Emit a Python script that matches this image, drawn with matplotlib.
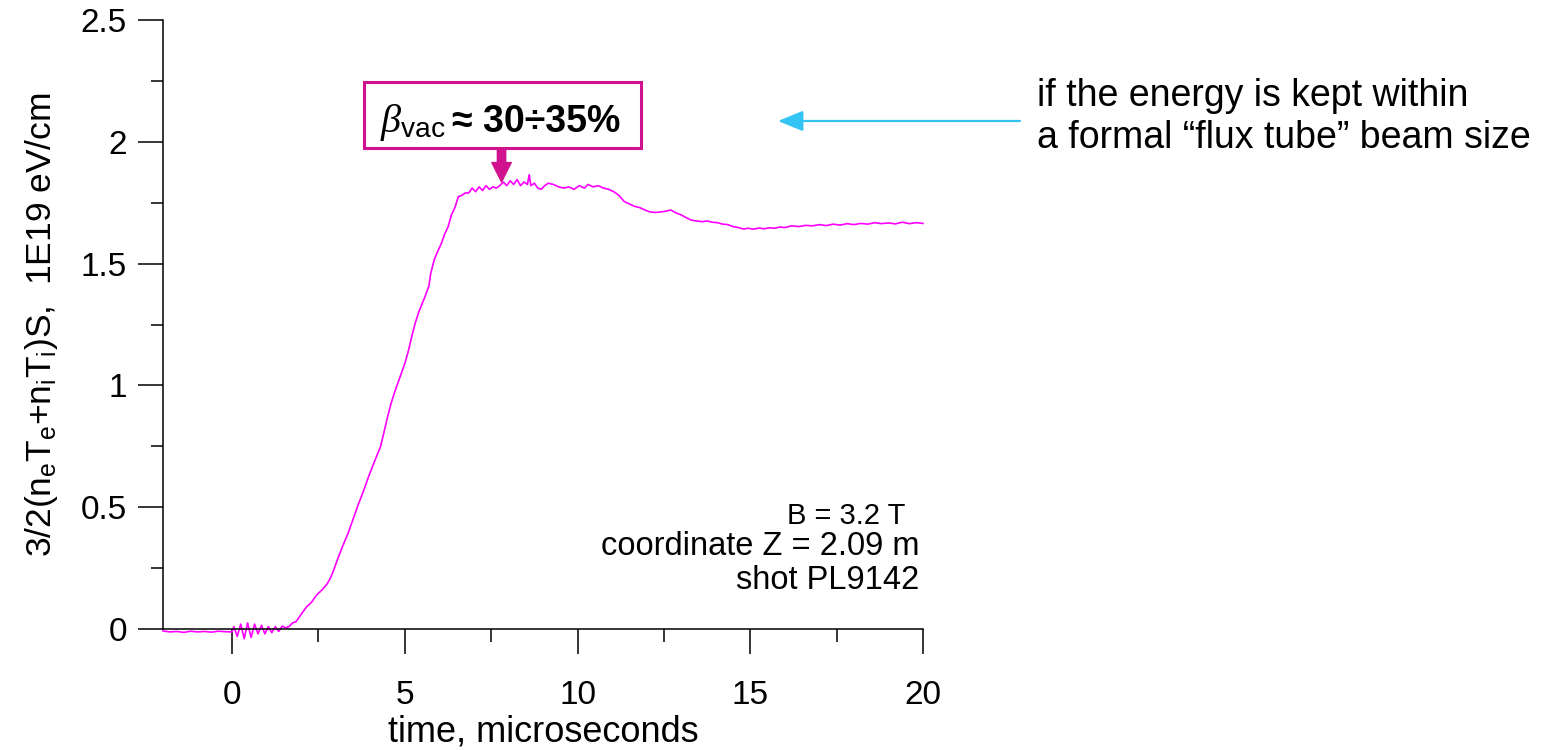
import numpy as np
import matplotlib
matplotlib.use("Agg")
import matplotlib.pyplot as plt
from matplotlib.patches import Rectangle
from matplotlib.ticker import MultipleLocator

plt.rcParams['font.family'] = ['Liberation Sans', 'DejaVu Sans']
plt.rcParams['mathtext.fontset'] = 'custom'
plt.rcParams['mathtext.rm'] = 'Liberation Sans'
plt.rcParams['mathtext.it'] = 'Liberation Serif:italic'
plt.rcParams['mathtext.bf'] = 'Liberation Sans:bold'

# Plasma energy content per unit length vs time, shot PL9142
time_us = [
    -2.0, -1.8, -1.6, -1.4, -1.2, -1.0, -0.8, -0.6, -0.4, -0.2, 0.0,
    0.05, 0.15, 0.25, 0.35, 0.45, 0.55, 0.65, 0.75, 0.85, 0.95, 1.05,
    1.15, 1.25, 1.35, 1.45, 1.55, 1.65, 1.75, 1.85, 1.95, 2.05, 2.15,
    2.3, 2.45, 2.6, 2.75, 2.85, 2.95, 3.05, 3.2, 3.35, 3.5, 3.65, 3.8,
    3.95, 4.1, 4.2, 4.3, 4.4, 4.5, 4.6, 4.7, 4.8, 4.9, 5.0, 5.1, 5.2,
    5.3, 5.4, 5.5, 5.6, 5.7, 5.75, 5.85, 5.95, 6.05, 6.15, 6.25, 6.35,
    6.45, 6.55, 6.65, 6.75, 6.85, 6.95, 7.05, 7.15, 7.25, 7.35, 7.45,
    7.55, 7.65, 7.75, 7.85, 7.95, 8.05, 8.15, 8.25, 8.35, 8.45, 8.55,
    8.6, 8.65, 8.75, 8.85, 8.95, 9.05, 9.15, 9.3, 9.45, 9.6, 9.75, 9.9,
    10.05, 10.2, 10.3, 10.45, 10.6, 10.75, 10.9, 11.05, 11.2, 11.35,
    11.5, 11.65, 11.8, 11.95, 12.1, 12.25, 12.4, 12.55, 12.7, 12.85,
    13.0, 13.15, 13.3, 13.45, 13.6, 13.75, 13.9, 14.05, 14.2, 14.35,
    14.5, 14.65, 14.8, 14.95, 15.1, 15.25, 15.4, 15.55, 15.7, 15.85,
    16.0, 16.2, 16.4, 16.6, 16.8, 17.0, 17.2, 17.4, 17.6, 17.8, 18.0,
    18.2, 18.4, 18.6, 18.8, 19.0, 19.2, 19.4, 19.6, 19.8, 20.0,
]
energy = [
    -0.008, -0.012, -0.010, -0.014, -0.009, -0.012, -0.010, -0.013, -0.009, -0.011, -0.012,
    0.010, -0.030, 0.020, -0.040, 0.025, -0.035, 0.020, -0.020, 0.015, -0.020, 0.010,
    -0.015, 0.010, -0.010, 0.012, 0.005, 0.010, 0.025, 0.030, 0.050, 0.070, 0.090,
    0.110, 0.140, 0.160, 0.185, 0.210, 0.245, 0.285, 0.340, 0.390, 0.450, 0.510, 0.565,
    0.625, 0.680, 0.715, 0.750, 0.810, 0.870, 0.925, 0.970, 1.010, 1.050, 1.090, 1.140, 1.200,
    1.255, 1.300, 1.335, 1.370, 1.410, 1.460, 1.515, 1.550, 1.580, 1.620, 1.650, 1.700,
    1.730, 1.775, 1.780, 1.790, 1.790, 1.810, 1.795, 1.815, 1.800, 1.820, 1.805,
    1.815, 1.810, 1.820, 1.835, 1.820, 1.840, 1.825, 1.845, 1.820, 1.835, 1.825,
    1.865, 1.820, 1.830, 1.810, 1.805, 1.820, 1.830, 1.825, 1.815, 1.810, 1.815, 1.805,
    1.820, 1.810, 1.825, 1.815, 1.820, 1.810, 1.805, 1.795, 1.780, 1.755,
    1.745, 1.735, 1.730, 1.720, 1.712, 1.710, 1.712, 1.715, 1.720, 1.708,
    1.700, 1.688, 1.678, 1.675, 1.672, 1.675, 1.670, 1.668, 1.662, 1.660,
    1.652, 1.648, 1.642, 1.645, 1.641, 1.646, 1.643, 1.647, 1.645, 1.650,
    1.648, 1.655, 1.652, 1.657, 1.655, 1.660, 1.656, 1.662, 1.658, 1.664, 1.660,
    1.665, 1.662, 1.668, 1.664, 1.667, 1.663, 1.670, 1.664, 1.668, 1.665,
]

x_ticks = [0, 5, 10, 15, 20]
y_ticks = [0, 0.5, 1, 1.5, 2, 2.5]
y_tick_labels = ['0', '0.5', '1', '1.5', '2', '2.5']

beta_value = 'β_vac ≈ 30÷35%'
beta_at = 7.8  # time the annotation arrow points to

shot_info = ['coordinate Z = 2.09 m', 'shot PL9142']
field_info = 'B = 3.2 T'
side_note = ['if the energy is kept within', 'a formal “flux tube” beam size']

accent = '#D0128F'
cyan = '#33C4F4'

fig = plt.figure(figsize=(15.45, 7.5), dpi=100)
ax = fig.add_axes([163 / 1545, 1 - 629 / 750, 760 / 1545, 609 / 750])

# the pre-trigger noise dips slightly below zero, so let it spill past the axis
ax.plot(time_us, energy, color='#FF00FF', lw=1.2, clip_on=False)

ax.set_xlim(-2, 20)
ax.set_ylim(0, 2.5)
ax.spines['top'].set_visible(False)
ax.spines['right'].set_visible(False)
for s in ('left', 'bottom'):
    ax.spines[s].set_linewidth(1.1)

ax.set_xticks(x_ticks)
ax.xaxis.set_minor_locator(MultipleLocator(2.5))
ax.set_yticks(y_ticks)
ax.set_yticklabels(y_tick_labels)
ax.yaxis.set_minor_locator(MultipleLocator(0.25))
ax.tick_params(axis='both', which='major', direction='out', length=18, width=1.1,
               labelsize=24)
ax.tick_params(axis='both', which='minor', direction='out', length=9, width=1.1)
ax.tick_params(axis='x', which='major', pad=19)
ax.tick_params(axis='y', which='major', pad=8)

ax.set_xlabel('time, microseconds', fontsize=26)
ax.xaxis.set_label_coords(0.5, -0.14)
ax.set_ylabel(r'3/2(n$_\mathrm{e}$T$_\mathrm{e}$+n$_\mathrm{i}$T$_\mathrm{i}$)S,  1E19 eV/cm',
              fontsize=25.5)
ax.yaxis.set_label_coords(-0.136, 0.5)

# Run parameters in the lower right corner
ax.text(19.5, 0.464, field_info, ha='right', va='center', fontsize=21)
ax.text(19.9, 0.337, shot_info[0], ha='right', va='center', fontsize=23.5)
ax.text(19.9, 0.201, shot_info[1], ha='right', va='center', fontsize=23.5)

# Beta estimate box with arrow onto the plateau
box = Rectangle((3.815, 1.975), 11.85 - 3.815, 2.245 - 1.975, facecolor='white',
                edgecolor=accent, lw=2.2, clip_on=False, zorder=4)
ax.add_patch(box)
ax.text(6.18, 2.04, r'$\beta_{\mathrm{vac}}$', ha='right', va='baseline',
        fontsize=29, zorder=5)
ax.text(6.36, 2.04, beta_value.split(' ', 1)[1], ha='left', va='baseline',
        fontsize=27, fontweight='bold', zorder=5)
ax.annotate('', xy=(beta_at, 1.835), xytext=(beta_at, 1.975),
            arrowprops=dict(arrowstyle='simple,head_length=14,head_width=14,tail_width=6',
                            mutation_scale=1, color=accent, shrinkA=0, shrinkB=0),
            zorder=5)

# Side note with a pointer towards the plot
fig.text(1037 / 1545, 1 - 106 / 750, side_note[0], ha='left', va='baseline', fontsize=27)
fig.text(1037 / 1545, 1 - 148 / 750, side_note[1], ha='left', va='baseline', fontsize=27)
ax.annotate('', xy=(778 / 1545, 1 - 121 / 750), xytext=(1020 / 1545, 1 - 121 / 750),
            xycoords='figure fraction', textcoords='figure fraction',
            arrowprops=dict(arrowstyle='-|>,head_length=1.1,head_width=0.45',
                            mutation_scale=14, color=cyan, lw=1.6,
                            shrinkA=0, shrinkB=0))

fig.savefig('out.png', dpi=100)
